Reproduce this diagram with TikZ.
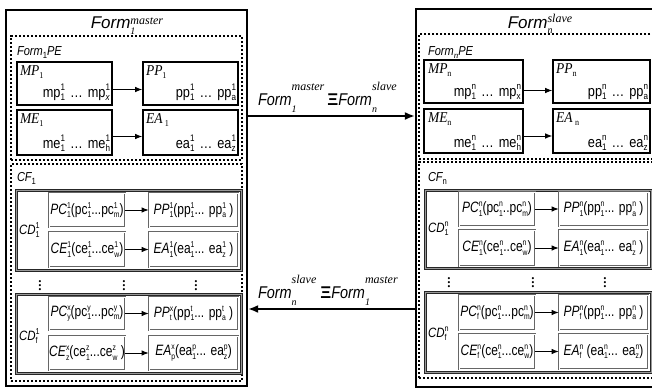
\documentclass[tikz,border=0pt]{standalone}
\usepackage{fontspec}
\setmainfont{Liberation Serif}
\newfontfamily\nsans[FakeStretch=0.85]{Liberation Sans}
\newfontfamily\rsans[FakeStretch=0.8]{Liberation Sans}
\newfontfamily\nserif[FakeStretch=0.9]{Liberation Serif}
\newfontfamily\tsans{Liberation Sans}
\newfontfamily\wserif{Liberation Serif}
\usetikzlibrary{arrows.meta}
\newcommand\fsz[1]{\fontsize{#1}{#1}\selectfont}
\newcommand\supb[4]{\setbox0=\hbox{#2}\setbox2=\hbox{#4}\dimen0=\ifdim\wd0>\wd2 \wd0\else\wd2\fi\relax\rlap{\raise#1\box0}\rlap{\lower#3\box2}\kern\dimen0\relax}
\newcommand\lsb[2]{\supb{6pt}{\fsz{8.5}\upshape #1}{3.2pt}{\fsz{8.5}\upshape #2}}
\newcommand\psb[2]{\supb{6.5pt}{\fsz{9.5}\upshape #1}{3.5pt}{\fsz{9.5}\upshape #2}}
\newcommand\lsub[1]{\lower3pt\hbox{\fsz{9}\upshape #1}}
\newcommand\rowf{\rsans\fsz{15}}
\newcommand\boxf{\nsans\fsz{15}}
\newcommand\hdf{\nserif\itshape\fsz{15}}
\newcommand\eldots{\hspace{5pt}…\hspace{5pt}}
\tikzset{
 outerbox/.style={draw, line width=2.4pt, inner sep=0pt},
 dashbox/.style={draw, line width=1.4pt, dash pattern=on 2.4pt off 1.6pt, inner sep=0pt},
 blk/.style={draw, line width=1.6pt, inner sep=0pt},
 cdbox/.style={draw=black!85, line width=1.1pt, double=black!40, double distance=0.8pt, inner sep=0pt},
 rowbox/.style={draw=black!60, line width=0.7pt, double=white, double distance=0.8pt, inner sep=0pt},
 arr/.style={-{Latex[length=7pt,width=5.5pt]}, line width=0.9pt},
 midarr/.style={-{Latex[length=10pt,width=8pt]}, line width=1.6pt},
 lbl/.style={inner sep=0pt, outer sep=0pt},
 dts/.style={inner sep=0pt, outer sep=0pt, font=\fsz{13}\bfseries},
}
\begin{document}
\begin{tikzpicture}[x=1pt,y=-1pt]
\useasboundingbox (0,0) rectangle (652,389);
% ================= LEFT =================
\node[outerbox, minimum width=241pt, minimum height=376pt] (L) at (126.5,198) {};
\node[lbl, anchor=base] (Lt) at (127,28) {{\tsans\itshape\fsz{17}Form}\supb{4pt}{\wserif\itshape\fsz{12}master}{6pt}{\wserif\itshape\fsz{10}1}};
\node[dashbox, minimum width=231pt, minimum height=124pt] (LPE) at (126.5,98) {};
\node[lbl, anchor=base west] (LPEl) at (17,55) {\nsans\itshape\fsz{13}Form\lsub{1}PE};
\node[blk, minimum width=95pt, minimum height=43pt] (MPa) at (64.5,83.5) {};
\node[lbl, anchor=base west] (MPat) at (20,75) {\hdf MP\lsub{1}};
\node[lbl, anchor=base east] (MPav) at (110,97) {\boxf mp\psb{1}{1}\eldots mp\psb{1}{\itshape x}};
\node[blk, minimum width=95pt, minimum height=43pt] (PPa) at (190.5,83.5) {};
\node[lbl, anchor=base west] (PPat) at (146,75) {\hdf PP\lsub{1}};
\node[lbl, anchor=base east] (PPav) at (236,97) {\boxf pp\psb{1}{1}\eldots pp\psb{1}{a}};
\node[blk, minimum width=95pt, minimum height=45pt] (MEa) at (64.5,132.5) {};
\node[lbl, anchor=base west] (MEat) at (20,123) {\hdf ME\lsub{1}};
\node[lbl, anchor=base east] (MEav) at (110,148) {\boxf me\psb{1}{1}\eldots me\psb{1}{h}};
\node[blk, minimum width=95pt, minimum height=45pt] (EAa) at (190.5,132.5) {};
\node[lbl, anchor=base west] (EAat) at (146,123) {\hdf EA\,\lsub{1}};
\node[lbl, anchor=base east] (EAav) at (236,148) {\boxf ea\psb{1}{1}\eldots ea\psb{1}{z}};
\draw[arr] ([yshift=-6pt]MPa.east) -- ([yshift=-6pt]PPa.west);
\draw[arr] ([yshift=-4pt]MEa.east) -- ([yshift=-4pt]EAa.west);
\node[dashbox, minimum width=231pt, minimum height=217pt] (LCF) at (126.5,272.5) {};
\node[lbl, anchor=base west] (LCFl) at (17,181) {\nsans\itshape\fsz{13}CF\lsub{1}};
% CD 1
\node[cdbox, minimum width=225pt, minimum height=80pt] (CDa) at (128.5,230) {};
\node[lbl, anchor=west] (CDal) at (19,230) {\nsans\itshape\fsz{13.5}CD\lsb{1}{1}};
\node[rowbox, minimum width=76pt, minimum height=34pt] (PCa) at (87,210) {\rowf\textit{PC}\lsb{1}{1}(pc\lsb{1}{1}...pc\lsb{1}{m})};
\node[rowbox, minimum width=76pt, minimum height=35pt] (CEa) at (87,249.5) {\rowf\textit{CE}\lsb{1}{1}(ce\lsb{1}{1}...ce\lsb{1}{w})};
\node[rowbox, minimum width=89pt, minimum height=34pt] (PPb) at (193.5,210) {\rowf\textit{PP}\lsb{1}{1}(pp\lsb{1}{1}... pp\lsb{1}{a} )};
\node[rowbox, minimum width=89pt, minimum height=35pt] (EAb) at (193.5,249.5) {\rowf\textit{EA}\lsb{1}{1}(ea\lsb{1}{1}... ea\lsb{1}{z} )};
\draw[arr] (PCa) -- (PPb);
\draw[arr] (CEa) -- (EAb);
\node[dts] (dA1) at (40,283) {$\vdots$};
\node[dts] (dA2) at (124,283) {$\vdots$};
\node[dts] (dA3) at (196,283) {$\vdots$};
% CD f
\node[cdbox, minimum width=225pt, minimum height=79pt] (CDb) at (128.5,333.5) {};
\node[lbl, anchor=west] (CDbl) at (19,336) {\nsans\itshape\fsz{13.5}CD\lsb{1}{f}};
\node[rowbox, minimum width=76pt, minimum height=33pt] (PCb) at (87,313.5) {\rowf\textit{PC}\lsb{x}{y}(pc\lsb{y}{1}...pc\lsb{y}{m})};
\node[rowbox, minimum width=76pt, minimum height=34pt] (CEb) at (87,353) {\rowf\textit{CE}\lsb{x}{z}(ce\lsb{z}{1}...ce\lsb{z}{w} )};
\node[rowbox, minimum width=89pt, minimum height=33pt] (PPc) at (193.5,313.5) {\rowf\textit{PP}\lsb{x}{t}(pp\lsb{t}{1}... pp\lsb{t}{a} )};
\node[rowbox, minimum width=89pt, minimum height=34pt] (EAc) at (193.5,353) {\rowf\textit{EA}\lsb{x}{p}(ea\lsb{p}{1}... ea\lsb{p}{z})};
\draw[arr] (PCb) -- (PPc);
\draw[arr] (CEb) -- (EAc);
% ================= RIGHT =================
\node[outerbox, minimum width=243pt, minimum height=378pt] (R) at (537.5,198) {};
\node[lbl, anchor=base] (Rt) at (540,28) {{\tsans\itshape\fsz{17}Form}\supb{6pt}{\wserif\itshape\fsz{12}slave}{5pt}{\wserif\itshape\fsz{10}n}};
\node[dashbox, minimum width=235pt, minimum height=125pt] (RPE) at (536.5,96.5) {};
\node[lbl, anchor=base west] (RPEl) at (428,55) {\nsans\itshape\fsz{13}Form\lsub{\wserif\itshape n}PE};
\node[blk, minimum width=99pt, minimum height=43pt] (MPn) at (473.5,81.5) {};
\node[lbl, anchor=base west] (MPnt) at (428,73) {\hdf MP\lsub{n}};
\node[lbl, anchor=base east] (MPnv) at (521,96) {\boxf mp\psb{n}{1}\eldots mp\psb{n}{x}};
\node[blk, minimum width=97pt, minimum height=43pt] (PPn) at (601.5,81.5) {};
\node[lbl, anchor=base west] (PPnt) at (556,73) {\hdf PP\lsub{n}};
\node[lbl, anchor=base east] (PPnv) at (648,96) {\boxf pp\psb{n}{1}\eldots pp\psb{n}{a}};
\node[blk, minimum width=99pt, minimum height=44pt] (MEn) at (473.5,131) {};
\node[lbl, anchor=base west] (MEnt) at (428,122) {\hdf ME\lsub{n}};
\node[lbl, anchor=base east] (MEnv) at (521,147) {\boxf me\psb{n}{1}\eldots me\psb{n}{h}};
\node[blk, minimum width=97pt, minimum height=44pt] (EAn) at (601.5,131) {};
\node[lbl, anchor=base west] (EAnt) at (556,122) {\hdf EA\,\lsub{n}};
\node[lbl, anchor=base east] (EAnv) at (648,147) {\boxf ea\psb{n}{1}\eldots ea\psb{n}{z}};
\draw[arr] ([yshift=-9pt]MPn.east) -- ([yshift=-9pt]PPn.west);
\draw[arr] ([yshift=-5pt]MEn.east) -- ([yshift=-5pt]EAn.west);
\node[dashbox, minimum width=235pt, minimum height=216pt] (RCF) at (536.5,270) {};
\node[lbl, anchor=base west] (RCFl) at (428,181) {\nsans\itshape\fsz{13}CF\lsub{n}};
% CD 1 n
\node[cdbox, minimum width=226pt, minimum height=78pt] (CDc) at (538,229) {};
\node[lbl, anchor=west] (CDcl) at (428,229) {\nsans\itshape\fsz{13.5}CD\lsb{n}{1}};
\node[rowbox, minimum width=76pt, minimum height=34pt] (PCc) at (497,209) {\rowf\textit{PC}\lsb{n}{1}(pc\lsb{n}{1}..pc\lsb{n}{m})};
\node[rowbox, minimum width=76pt, minimum height=36pt] (CEc) at (497,248) {\rowf\textit{CE}\lsb{n}{1}(ce\lsb{n}{1}..ce\lsb{n}{w})};
\node[rowbox, minimum width=89pt, minimum height=34pt] (PPd) at (603.5,209) {\rowf\textit{PP}\lsb{n}{1}(pp\lsb{n}{1}... pp\lsb{n}{a} )};
\node[rowbox, minimum width=89pt, minimum height=36pt] (EAd) at (603.5,248) {\rowf\textit{EA}\lsb{n}{1}(ea\lsb{n}{1}... ea\lsb{n}{z} )};
\draw[arr] (PCc) -- (PPd);
\draw[arr] (CEc) -- (EAd);
\node[dts] (dB1) at (449,280) {$\vdots$};
\node[dts] (dB2) at (533,280) {$\vdots$};
\node[dts] (dB3) at (605,280) {$\vdots$};
% CD f n
\node[cdbox, minimum width=226pt, minimum height=80pt] (CDd) at (538,332) {};
\node[lbl, anchor=west] (CDdl) at (428,334) {\nsans\itshape\fsz{13.5}CD\lsb{n}{f}};
\node[rowbox, minimum width=76pt, minimum height=35pt] (PCd) at (497,312.5) {\rowf\textit{PC}\lsb{n}{f}(pc\lsb{n}{1}...pc\lsb{n}{m})};
\node[rowbox, minimum width=76pt, minimum height=35pt] (CEd) at (497,351.5) {\rowf\textit{CE}\lsb{n}{f}(ce\lsb{n}{1}...ce\lsb{n}{w})};
\node[rowbox, minimum width=89pt, minimum height=35pt] (PPe) at (603.5,312.5) {\rowf\textit{PP}\lsb{n}{f}(pp\lsb{n}{1}... pp\lsb{n}{a} )};
\node[rowbox, minimum width=89pt, minimum height=35pt] (EAe) at (603.5,351.5) {\rowf\textit{EA}\lsb{n}{f} (ea\lsb{n}{1}... ea\lsb{n}{z})};
\draw[arr] (PCd) -- (PPe);
\draw[arr] (CEd) -- (EAe);
% ================= MIDDLE =================
\coordinate (ty) at (0,116);
\coordinate (by) at (0,309);
\draw[midarr] (L.east |- ty) -- (R.west |- ty);
\draw[midarr] (R.west |- by) -- (L.east |- by);
\node[lbl, anchor=base west] (mt) at (258,105) {{\nsans\itshape\fsz{17}Form}\supb{15pt}{\wserif\itshape\fsz{12}master}{7pt}{\wserif\itshape\fsz{10}1}\hspace{3pt}{\tsans\bfseries\fsz{17}Ξ}{\nsans\itshape\fsz{17}Form}\supb{15pt}{\wserif\itshape\fsz{12}slave}{7pt}{\wserif\itshape\fsz{10}n}};
\node[lbl, anchor=base west] (mb) at (258,298) {{\nsans\itshape\fsz{17}Form}\supb{15pt}{\wserif\itshape\fsz{12}slave}{7pt}{\wserif\itshape\fsz{10}n}\hspace{4pt}{\tsans\bfseries\fsz{17}Ξ}{\nsans\itshape\fsz{17}Form}\supb{15pt}{\wserif\itshape\fsz{12}master}{7pt}{\wserif\itshape\fsz{10}1}};
\end{tikzpicture}
\end{document}
